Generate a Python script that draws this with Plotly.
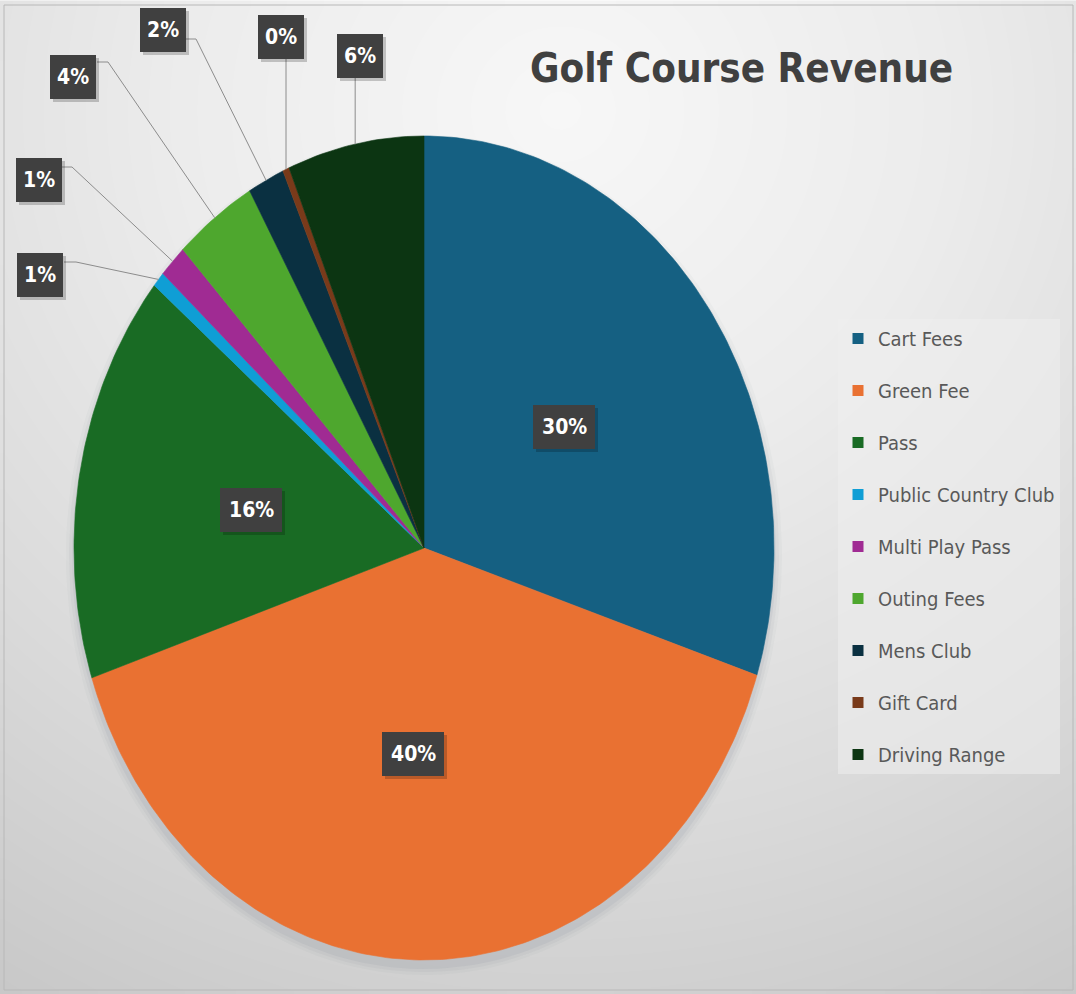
import numpy as np
import plotly.graph_objects as go

# Revenue share by category (percent of total)
categories = ["Cart Fees", "Green Fee", "Pass", "Public Country Club", "Multi Play Pass",
              "Outing Fees", "Mens Club", "Gift Card", "Driving Range"]
shares = [30.0, 39.9, 16.1, 0.6, 1.3, 3.8, 1.7, 0.3, 6.3]
colors = ["#156082", "#E97132", "#196B24", "#0F9ED5", "#A02B93",
          "#4EA72E", "#0A3041", "#793A1A", "#0C3512"]

W, H = 1076, 994
FONT = "DejaVu Sans Condensed, Roboto, sans-serif"

# Ellipse geometry of the pie in pixel-space axes
CX, CY, RX, RY = 424, 548, 350, 412

# Label placement: inside labels for large slices, outside callouts for small ones
inside_pos = {"Cart Fees": (564, 427), "Pass": (251, 510), "Green Fee": (413, 754)}
callout_pos = {
    # box centre, elbow start, elbow end (None -> vertical drop)
    "Public Country Club": ((40, 275), (64, 262), (76, 262)),
    "Multi Play Pass": ((39, 180), (62, 167), (72, 167)),
    "Outing Fees": ((73, 77), (97, 62), (108, 62)),
    "Mens Club": ((163, 30), (186, 39), (196, 39)),
    "Gift Card": ((281, 37), None, None),
    "Driving Range": ((360, 56), None, None),
}
BOX_H = 44


def edge_point(theta):
    return CX + RX * np.sin(theta), CY - RY * np.cos(theta)


fig = go.Figure()

# Soft radial background
gx = np.linspace(4, 1073, 120)
gy = np.linspace(5, 990, 110)
GX, GY = np.meshgrid(gx, gy)
dist = np.sqrt((GX - 560) ** 2 + ((GY - 110) / 0.95) ** 2)
fig.add_trace(go.Heatmap(
    x=gx, y=gy, z=dist, zsmooth="best", showscale=False, hoverinfo="skip",
    colorscale=[[0, "#f7f7f7"], [0.35, "#ececec"], [0.7, "#dadada"], [1, "#c8c8c8"]],
))

# Soft shadow under the pie
for k, a in [(8, 0.035), (5, 0.05), (2, 0.07)]:
    t = np.linspace(0, 2 * np.pi, 240)
    fig.add_trace(go.Scatter(
        x=CX + (RX + k) * np.sin(t), y=CY + 7 - (RY + k) * np.cos(t),
        mode="lines", fill="toself", fillcolor=f"rgba(90,105,125,{a})",
        line=dict(width=0), hoverinfo="skip", showlegend=False))

total = sum(shares)
cum = np.concatenate([[0], np.cumsum(shares)]) / total * 2 * np.pi
mids = {}
for i, (name, val, col) in enumerate(zip(categories, shares, colors)):
    t0, t1 = cum[i], cum[i + 1]
    n = max(3, int((t1 - t0) / (2 * np.pi) * 400))
    t = np.linspace(t0, t1, n)
    ex, ey = edge_point(t)
    xs = np.concatenate([[CX], ex, [CX]])
    ys = np.concatenate([[CY], ey, [CY]])
    fig.add_trace(go.Scatter(
        x=xs, y=ys, mode="lines", fill="toself", fillcolor=col,
        line=dict(color=col, width=0.6), name=name, showlegend=False,
        hoverinfo="text", text=f"{name}: {val / total:.0%}"))
    mids[name] = (t0 + t1) / 2

# Legend entries
for i, (name, col) in enumerate(zip(categories, colors)):
    fig.add_trace(go.Scatter(
        x=[None], y=[None], mode="markers", name=name, legendgroup=str(i),
        marker=dict(symbol="square", size=11, color=col)))

annotations = []
shapes = []


def box_label(x, y, text):
    w = 46 if len(text) <= 2 else 62
    # drop shadow, dark box, then the text
    shapes.append(dict(type="rect", xref="x", yref="y", x0=x - w / 2 + 3, x1=x + w / 2 + 3,
                       y0=y - BOX_H / 2 + 3, y1=y + BOX_H / 2 + 3,
                       fillcolor="rgba(0,0,0,0.2)", line=dict(width=0), layer="above"))
    shapes.append(dict(type="rect", xref="x", yref="y", x0=x - w / 2, x1=x + w / 2,
                       y0=y - BOX_H / 2, y1=y + BOX_H / 2,
                       fillcolor="#404040", line=dict(width=0), layer="above"))
    annotations.append(dict(x=x, y=y, xref="x", yref="y", text=f"<b>{text}</b>",
                            showarrow=False, font=dict(family=FONT, size=21, color="white")))


for name, val in zip(categories, shares):
    pct = f"{val / total:.0%}"
    if name in inside_pos:
        box_label(*inside_pos[name], pct)
    else:
        (bx, by), p0, p1 = callout_pos[name]
        exx, eyy = edge_point(mids[name])
        if p0 is None:
            lx, ly = [exx, exx], [by + BOX_H / 2, eyy]
        else:
            lx, ly = [p0[0], p1[0], exx], [p0[1], p1[1], eyy]
        fig.add_trace(go.Scatter(x=lx, y=ly, mode="lines", line=dict(color="#8c8c8c", width=1),
                                 hoverinfo="skip", showlegend=False))
        box_label(bx, by, pct)

annotations.append(dict(x=741, y=68, xref="x", yref="y", text="<b>Golf Course Revenue</b>",
                        showarrow=False, font=dict(family=FONT, size=40, color="#404040")))

shapes.append(dict(type="rect", xref="x", yref="y", x0=4, y0=5, x1=1073, y1=990,
                   line=dict(color="#b8b8b8", width=1), layer="above"))

fig.update_layout(
    width=W, height=H, margin=dict(l=0, r=0, t=0, b=0),
    paper_bgcolor="white", plot_bgcolor="white",
    xaxis=dict(range=[0, W], visible=False, fixedrange=True),
    yaxis=dict(range=[H, 0], visible=False, fixedrange=True),
    annotations=annotations, shapes=shapes,
    showlegend=True,
    legend=dict(x=838 / W, y=1 - 319 / H, xanchor="left", yanchor="top",
                bgcolor="rgba(238,238,238,0.55)", font=dict(family=FONT, size=20, color="#595959"),
                tracegroupgap=23, traceorder="grouped", itemclick=False, itemdoubleclick=False),
)

fig.write_html("out.html")
